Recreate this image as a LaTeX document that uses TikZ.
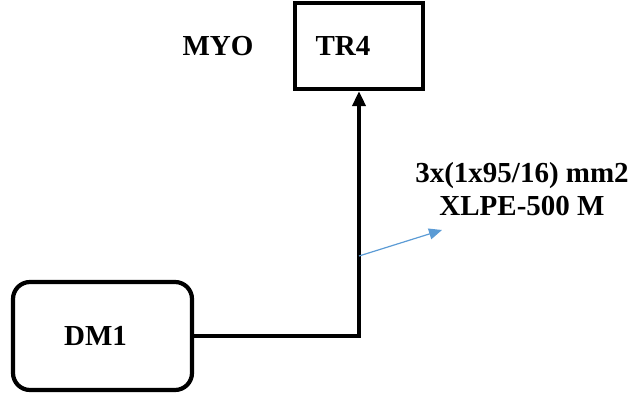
\documentclass[tikz,border=0pt]{standalone}
\usepackage{fontspec}
\setmainfont{Liberation Serif}
\usetikzlibrary{arrows.meta}
\definecolor{arrowblue}{RGB}{91,155,213}
\begin{document}
\begin{tikzpicture}[x=1pt,y=-1pt,
  lbl/.style={font=\fontsize{29}{32}\selectfont\bfseries, inner sep=0pt},
  boxsq/.style={draw, line width=4.2pt, minimum width=128pt, minimum height=86pt, inner sep=0pt},
  boxrd/.style={draw, line width=4.2pt, rounded corners=17pt, minimum width=179pt, minimum height=108pt, inner sep=0pt, font=\fontsize{29}{32}\selectfont\bfseries},
  wire/.style={line width=4.2pt},
  note/.style={draw=arrowblue, line width=1.2pt, -{Triangle[length=13pt,width=11pt]}}]
\useasboundingbox (0,0) rectangle (636,396);
\node[boxsq] (tr4) at (359,46) {};
\node[lbl] (tr4t) at (343,46) {TR4};
\node[lbl] (myo) at (218,46) {MYO};
\node[boxrd] (dm1) at (102.5,336) {\hspace*{-14pt}DM1};
\draw[wire, -{Triangle[length=15pt,width=13pt]}] (dm1.east) -| (tr4.south);
\coordinate (tap) at (359,256);
\coordinate (tip) at (442,230);
\draw[note] (tap) -- (tip);
\node[lbl, align=center] (cable) at (522,189) {3x(1x95/16) mm2\\[1pt]XLPE-500 M};
\end{tikzpicture}
\end{document}
